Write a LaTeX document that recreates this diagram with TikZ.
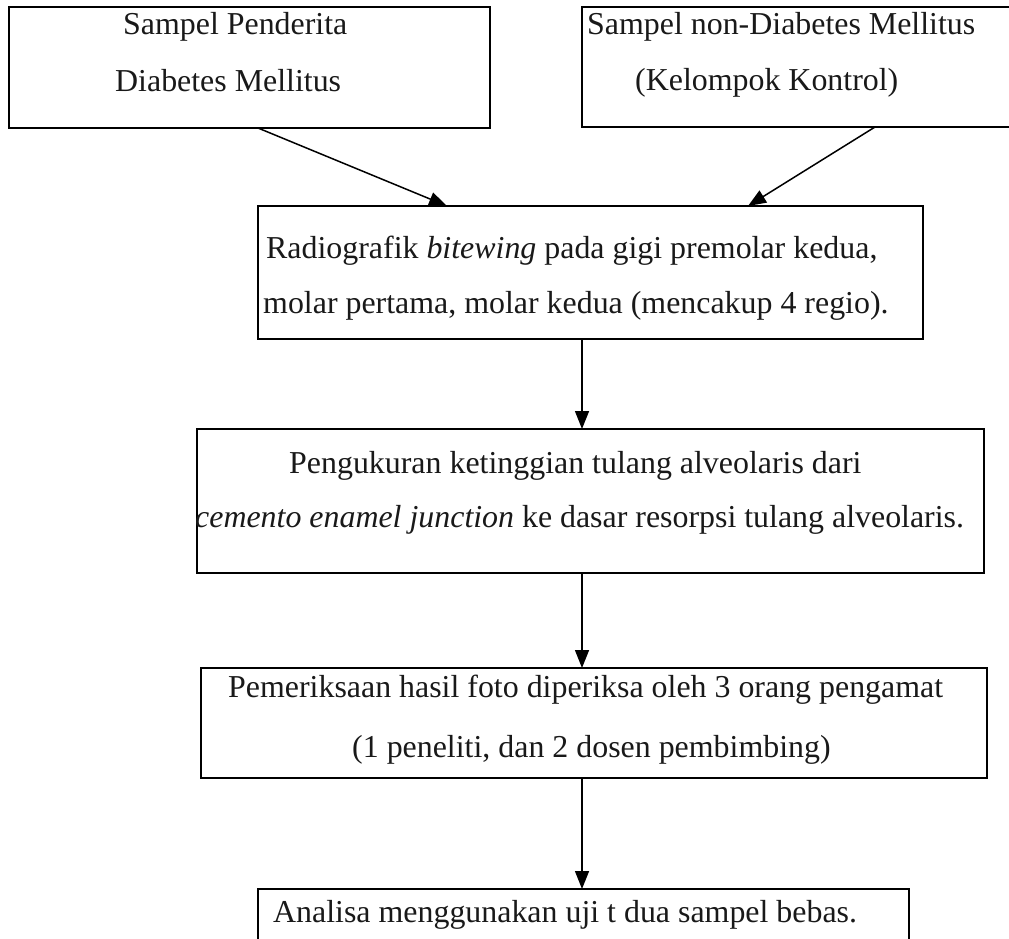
\documentclass[tikz,border=0pt]{standalone}
\usepackage{fontspec}
\setmainfont{Liberation Serif}
\usetikzlibrary{arrows.meta}
\begin{document}
\begin{tikzpicture}[x=1pt,y=-1pt,
  box/.style={draw, line width=1.9pt, inner sep=0pt, outer sep=0pt, anchor=north west},
  txt/.style={anchor=base west, inner sep=0pt, text=black!90, font=\fontsize{31.9}{38}\selectfont},
  arr/.style={line width=1.5pt, -{Triangle[length=18pt,width=14pt]}}]
\useasboundingbox (0,0) rectangle (1009,939);
\fill[white] (0,0) rectangle (1009,939);
\clip (0,0) rectangle (1009,939);
% boxes
\node[box, minimum width=481pt, minimum height=121pt] (b1) at (9,7) {};
\node[box, minimum width=430pt, minimum height=120pt] (b2) at (582,7) {};
\node[box, minimum width=665pt, minimum height=133pt] (b3) at (258,206) {};
\node[box, minimum width=787pt, minimum height=144pt] (b4) at (197,429) {};
\node[box, minimum width=786pt, minimum height=110pt] (b5) at (201,668) {};
\node[box, minimum width=651pt, minimum height=90pt] (b6) at (258,889) {};
% texts
\node[txt] (t1a) at (123,35) {Sampel Penderita};
\node[txt] (t1b) at (115,92) {Diabetes Mellitus};
\node[txt] (t2a) at (587,35) {Sampel non-Diabetes Mellitus};
\node[txt] (t2b) at (635,91) {(Kelompok Kontrol)};
\node[txt] (t3a) at (266,258) {Radiografik \textit{bitewing} pada gigi premolar kedua,};
\node[txt] (t3b) at (263,313) {molar pertama, molar kedua (mencakup 4 regio).};
\node[txt] (t4a) at (289,473) {Pengukuran ketinggian tulang alveolaris dari};
\node[txt] (t4b) at (195,527) {\textit{cemento enamel junction} ke dasar resorpsi tulang alveolaris.};
\node[txt] (t5a) at (228,697) {Pemeriksaan hasil foto diperiksa oleh 3 orang pengamat};
\node[txt] (t5b) at (352,757) {(1 peneliti, dan 2 dosen pembimbing)};
\node[txt] (t6) at (273,922) {Analisa menggunakan uji t dua sampel bebas.};
% connectors
\coordinate (ax) at (582,0);
\draw[arr] ([xshift=8.5pt]b1.south) -- ([xshift=-143.5pt]b3.north);
\draw[arr] ([xshift=78pt]b2.south) -- ([xshift=157.5pt]b3.north);
\draw[arr] (b3.south -| ax) -- (b4.north -| ax);
\draw[arr] (b4.south -| ax) -- (b5.north -| ax);
\draw[arr] (b5.south -| ax) -- (b6.north -| ax);
\end{tikzpicture}
\end{document}
